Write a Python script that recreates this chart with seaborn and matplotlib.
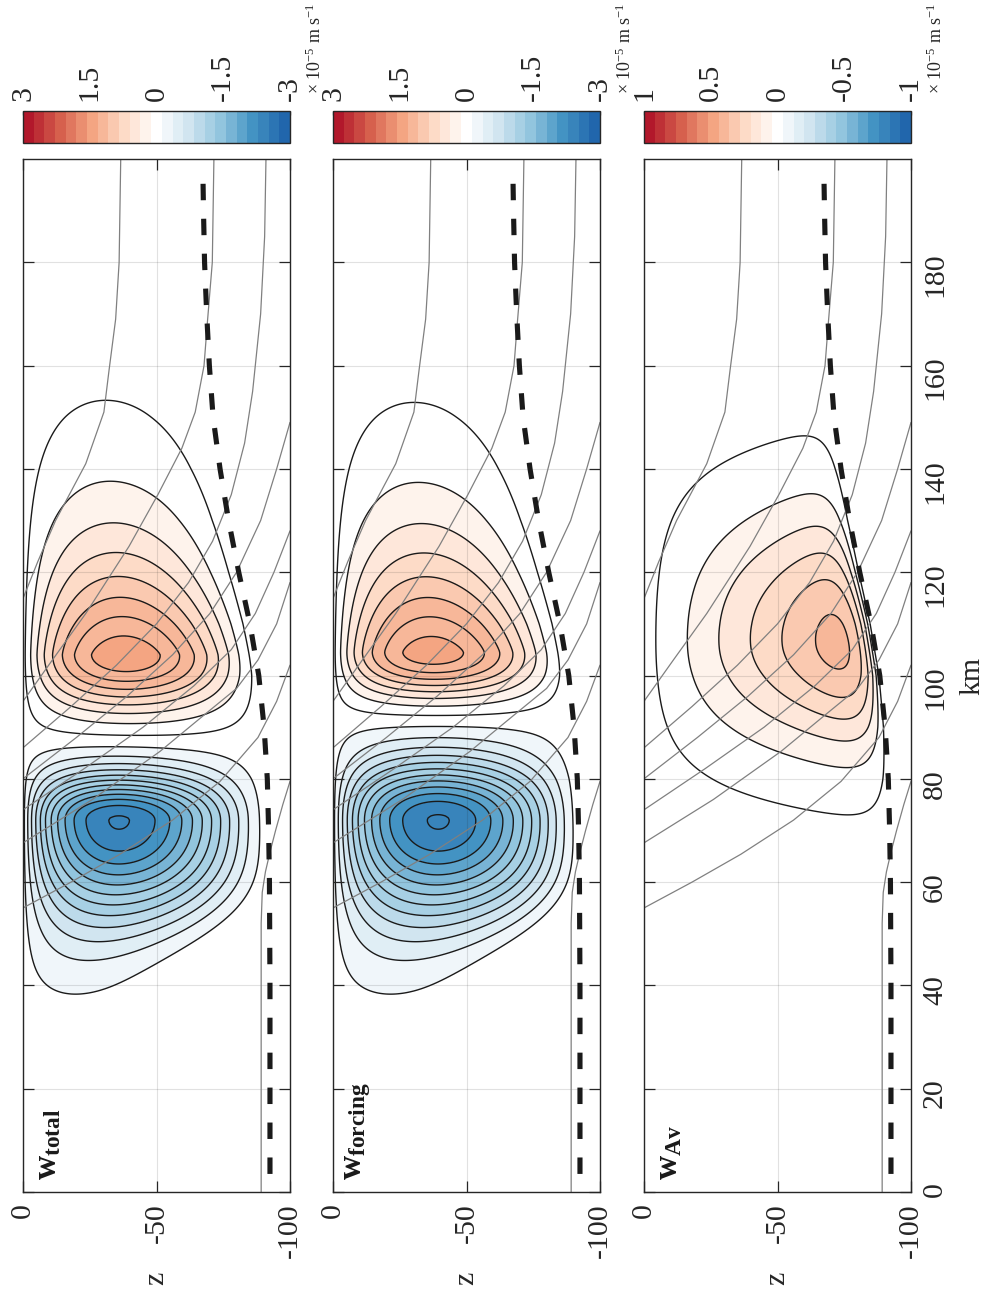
import numpy as np
import matplotlib
matplotlib.use("Agg")
import matplotlib.pyplot as plt
import seaborn as sns
from matplotlib.colors import LinearSegmentedColormap, Normalize
import matplotlib.cm as cm

# ------------------------------------------------------------------ data
km_ticks = [0, 20, 40, 60, 80, 100, 120, 140, 160, 180]
z_ticks = [0, -50, -100]
cbar_ticks = [[3, 1.5, 0, -1.5, -3], [3, 1.5, 0, -1.5, -3], [1, 0.5, 0, -0.5, -1]]
cbar_range = [3, 3, 1]
panel_names = [r"$\mathbf{w_{total}}$", r"$\mathbf{w_{forcing}}$", r"$\mathbf{w_{Av}}$"]
cbar_label = r"$\times$ 10$^{-5}$ m s$^{-1}$"

# mixed-layer base (dashed line)
ml_km = [3.5, 20, 40, 60, 70, 80, 90, 100, 110, 120, 130, 140, 150, 160, 170, 180, 190, 196.5]
ml_z = [-92.5, -92.5, -92.5, -92.3, -92.0, -91.5, -90.3, -88.3, -85.0, -80.8,
        -77.0, -73.8, -71.2, -69.8, -68.8, -68.0, -67.6, -67.4]

# isopycnals (thin grey lines), km / z pairs
iso1_km = [200, 180, 169, 159, 151, 141, 130, 122, 114.9]
iso1_z = [-36.6, -36.0, -34.7, -32.2, -30.3, -23.5, -12.2, -5.5, 0]
iso2_km = [200, 180, 168, 160, 151, 144, 135, 125, 112, 103, 95]
iso2_z = [-71.5, -70.9, -69.0, -67.8, -64.5, -59.5, -50.5, -39.7, -23.5, -11, 0]
iso3_km = [200, 185, 170, 155, 145, 135, 126, 118, 110, 102, 94, 86]
iso3_z = [-91, -90.5, -89, -86, -83, -78, -71, -62, -50, -35, -18, 0]
iso4_km = [80, 88, 96, 104, 112, 120, 130, 140, 149]
iso4_z = [0, -20, -39, -56, -70, -80, -89, -95, -100]
iso5_km = [74, 82, 90, 98, 105, 112, 120, 128]
iso5_z = [0, -23, -45, -64, -78, -87, -94, -100]
iso6_km = [67.6, 76, 85.3, 92, 97.5, 103, 110, 118]
iso6_z = [0, -26, -51.3, -67, -80, -88, -95, -100]
iso7_km = [55, 60, 65.4, 72, 79.5, 88, 95, 102]
iso7_z = [0, -18, -36.3, -56, -73.8, -88, -95, -100]
iso8_km = [0, 52, 58, 62, 66, 70, 75, 79.5]
iso8_z = [-89.2, -89.2, -89.6, -90.8, -92.6, -94.6, -97.3, -100]
iso_km = [iso1_km, iso2_km, iso3_km, iso4_km, iso5_km, iso6_km, iso7_km, iso8_km]
iso_z = [iso1_z, iso2_z, iso3_z, iso4_z, iso5_z, iso6_z, iso7_z, iso8_z]

# vertical-velocity cells (one entry per cell):
# amplitude, centre (km), decay scale toward smaller / larger km, decay exponents,
# vertical-profile exponents inside the mixed layer, and the shallowing of the
# cell's lower edge away from its centre (fraction, km scale) on its small-km side
w_amp = [[1.65, -2.32], [1.62, -2.32], [0.455]]
w_km = [[104, 72], [104.5, 72], [106]]
w_Llow = [[10.5, 19], [8.5, 19], [20]]
w_Lhigh = [[22.3, 9], [22, 11.5], [24.5]]
w_plow = [[2, 2], [2, 2], [2]]
w_phigh = [[1.3, 2], [1.3, 2], [2]]
w_a = [[0.9, 0.9], [0.9, 0.9], [1.0]]
w_n = [[1, 1], [1, 1], [15]]
w_b = [[1.15, 1.4], [1.2, 1.2], [1.0]]
w_shrink = [[0.0, 0.5], [0.0, 0.5], [0.0]]
w_shrinkL = [[10, 27], [10, 27], [10]]

# ------------------------------------------------------------------ style
sns.set_theme(style="ticks")
plt.rcParams["font.family"] = ["Liberation Serif", "DejaVu Serif"]
plt.rcParams["mathtext.fontset"] = "custom"
plt.rcParams["mathtext.rm"] = "Liberation Serif"
plt.rcParams["mathtext.it"] = "Liberation Serif:italic"
plt.rcParams["mathtext.bf"] = "Liberation Serif:bold"
plt.rcParams["axes.unicode_minus"] = False
plt.rcParams["contour.negative_linestyle"] = "solid"

FS = 21.5
AXC = "#262626"
anchors = ["#2166ac", "#4393c3", "#92c5de", "#d1e5f0", "#ffffff",
           "#fddbc7", "#f4a582", "#d6604d", "#b2182b"]
cmap25 = LinearSegmentedColormap.from_list("rdbu25", anchors, N=25)

# grid for the fields
kg = np.linspace(0, 200, 501)
zg = np.linspace(0, -100, 301)
KM, Z = np.meshgrid(kg, zg)
H = np.interp(KM, ml_km, ml_z)


def vprof(S, a, n, b):
    ss = np.linspace(0, 1, 2001)
    vmax = np.max(ss ** a * (1 - ss ** n) ** b)
    return S ** a * (1 - S ** n) ** b / vmax


def field(i):
    W = np.zeros_like(KM)
    for k in range(len(w_amp[i])):
        dx = KM - w_km[i][k]
        L = np.where(dx < 0, w_Llow[i][k], w_Lhigh[i][k])
        p = np.where(dx < 0, w_plow[i][k], w_phigh[i][k])
        q = 1 - w_shrink[i][k] * (1 - np.exp(-(np.minimum(dx, 0) / w_shrinkL[i][k]) ** 4))
        S = np.clip(Z / (H * q), 0, 1)
        W += (w_amp[i][k] * np.exp(-(np.abs(dx) / L) ** p)
              * vprof(S, w_a[i][k], w_n[i][k], w_b[i][k]))
    return W


def levels_for(i):
    if i < 2:
        pos = list(np.round(np.arange(0.1, 3.2, 0.2), 2))
    else:
        pos = list(np.round(np.arange(0.03, 1.1, 0.08), 2))
    return sorted([-v for v in pos] + pos)


W_PX, H_PX = 989, 1292
fig = plt.figure(figsize=(W_PX / 100, H_PX / 100), dpi=100)
panel_x = [23, 333, 644]
pw = 267
ax_bottom = 1 - 1192 / H_PX
ax_h = 1033 / H_PX
cb_bottom = 1 - 143 / H_PX
cb_h = 32 / H_PX

for i in range(3):
    vmax = cbar_range[i]
    norm = Normalize(-vmax, vmax)
    lv = levels_for(i)
    fills = [cmap25(norm(v)) for v in lv[:-1]]
    W = field(i)

    ax = fig.add_axes([panel_x[i] / W_PX, ax_bottom, pw / W_PX, ax_h])
    ax.contourf(Z, KM, W, levels=lv, colors=fills, zorder=1)
    ax.contour(Z, KM, W, levels=lv, colors="k", linewidths=1.0,
               linestyles="solid", zorder=2)
    for kz, kk in zip(iso_z, iso_km):
        sns.lineplot(x=kz, y=kk, sort=False, estimator=None, color="#808080",
                     lw=0.9, ax=ax, zorder=3)
    sns.lineplot(x=ml_z, y=ml_km, sort=False, estimator=None, color="k",
                 lw=3.7, ax=ax, zorder=4)
    ax.get_lines()[-1].set_dashes((3.2, 3.6))

    ax.set_xlim(0, -100)
    ax.set_ylim(0, 200)
    ax.set_xticks(z_ticks)
    ax.set_yticks(km_ticks)
    ax.grid(True, color="k", alpha=0.13, lw=0.8)
    ax.set_axisbelow(False)
    for sp in ax.spines.values():
        sp.set_color(AXC)
        sp.set_linewidth(1.0)
        sp.set_zorder(6)
    ax.tick_params(axis="both", direction="in", length=8, width=0.9, color=AXC,
                   top=True, right=True, labelsize=FS, labelcolor=AXC)
    ax.tick_params(axis="x", labelrotation=90, pad=8)
    ax.set_xlabel("z", rotation=90, fontsize=FS, color=AXC, labelpad=10)
    if i == 2:
        ax.tick_params(axis="y", labelleft=False, labelright=True, labelrotation=90, pad=8)
        ax.yaxis.set_label_position("right")
        ax.set_ylabel("km", rotation=90, fontsize=FS, color=AXC, labelpad=8)
    else:
        ax.tick_params(axis="y", labelleft=False)
        ax.set_ylabel("")
    ax.text(-3.5, 2.3, panel_names[i], rotation=90, ha="left", va="bottom",
            fontsize=24, color="k", zorder=7)

    cax = fig.add_axes([panel_x[i] / W_PX, cb_bottom, pw / W_PX, cb_h])
    sm = cm.ScalarMappable(norm=norm, cmap=cmap25)
    cb = fig.colorbar(sm, cax=cax, orientation="horizontal", ticks=cbar_ticks[i])
    cax.invert_xaxis()
    cax.xaxis.set_ticks_position("top")
    cb.set_ticklabels(["%g" % t for t in cbar_ticks[i]])
    cax.tick_params(axis="x", direction="in", length=3, width=0.9, color=AXC,
                    labelsize=FS, labelrotation=90, pad=7, labelcolor=AXC,
                    top=True, bottom=False, labeltop=True, labelbottom=False)
    cb.outline.set_edgecolor(AXC)
    cb.outline.set_linewidth(1.0)
    fig.text((panel_x[i] + pw + 25) / W_PX, 1 - 48 / H_PX, cbar_label, rotation=90,
             ha="center", va="center", fontsize=13, color=AXC)

fig.savefig("out.png", dpi=100)
